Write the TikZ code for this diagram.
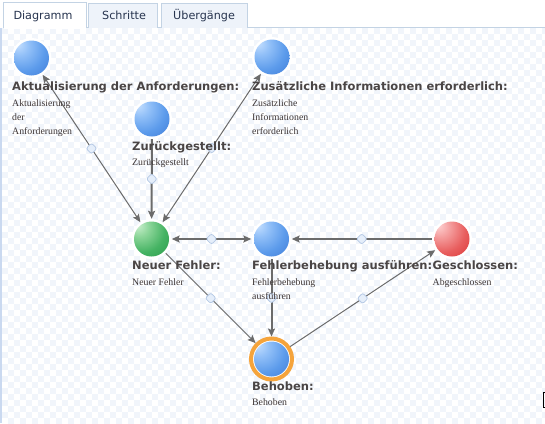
\documentclass[tikz,border=0pt]{standalone}
\usepackage{fontspec}
\setmainfont{Liberation Serif}
\newfontfamily\dvsans{DejaVu Sans}
\usetikzlibrary{arrows.meta,shapes.geometric}
\definecolor{tabtxt}{HTML}{27344F}
\definecolor{tabborder}{HTML}{C3D3E4}
\definecolor{tabfill}{HTML}{EEF3FA}
\definecolor{leftborder}{HTML}{CAD9F0}
\definecolor{chk}{HTML}{F1F5FB}
\definecolor{edgec}{HTML}{6B6B6B}
\definecolor{labc}{HTML}{4A4545}
\definecolor{subc}{HTML}{3C3434}
\definecolor{mkfill}{HTML}{E5EEFA}
\definecolor{mkdraw}{HTML}{B5C9E5}
\definecolor{ringor}{HTML}{F5A43C}
\definecolor{bA}{HTML}{C6E0FF}\definecolor{bB}{HTML}{92C0F8}\definecolor{bC}{HTML}{5C9BEB}\definecolor{bD}{HTML}{3F7AD6}\definecolor{bE}{HTML}{2D5CAE}\definecolor{bF}{HTML}{1D3E80}
\definecolor{gA}{HTML}{CDF0D0}\definecolor{gB}{HTML}{8DD69A}\definecolor{gC}{HTML}{45B363}\definecolor{gD}{HTML}{2A9A4A}\definecolor{gE}{HTML}{1E7E3A}\definecolor{gF}{HTML}{125626}
\definecolor{rA}{HTML}{FFD4D4}\definecolor{rB}{HTML}{F5A0A0}\definecolor{rC}{HTML}{E85E5E}\definecolor{rD}{HTML}{DA3434}\definecolor{rE}{HTML}{BE2424}\definecolor{rF}{HTML}{861212}
\pgfdeclareradialshading{blueball}{\pgfpoint{-18bp}{18bp}}{color(0bp)=(bA); color(12bp)=(bB); color(28bp)=(bC); color(45bp)=(bD); color(60bp)=(bE); color(78bp)=(bF)}
\pgfdeclareradialshading{greenball}{\pgfpoint{-18bp}{18bp}}{color(0bp)=(gA); color(12bp)=(gB); color(28bp)=(gC); color(45bp)=(gD); color(60bp)=(gE); color(78bp)=(gF)}
\pgfdeclareradialshading{redball}{\pgfpoint{-18bp}{18bp}}{color(0bp)=(rA); color(12bp)=(rB); color(28bp)=(rC); color(45bp)=(rD); color(60bp)=(rE); color(78bp)=(rF)}
\begin{document}
\begin{tikzpicture}[x=1pt,y=-1pt,
  st/.style={circle, inner sep=0pt, minimum size=40pt, fill=white,
    path picture={\shade[shading=#1] (path picture bounding box.center) circle[radius=17.5pt];}},
  string/.style={circle, inner sep=0pt, minimum size=41pt, fill=white, draw=ringor, line width=4pt,
    path picture={\shade[shading=#1] (path picture bounding box.center) circle[radius=17.5pt];}},
  lab/.style={font=\dvsans\bfseries\fontsize{11.5}{13}\selectfont, text=labc, inner sep=0pt, anchor=base west},
  sub/.style={font=\fontsize{9.8}{12}\selectfont, text=subc, inner sep=0pt, anchor=base west},
  tabt/.style={font=\dvsans\fontsize{11.2}{13}\selectfont, text=tabtxt, inner sep=0pt, anchor=base west},
  edgebase/.style={draw=edgec, >={Stealth[length=8pt,width=7pt,inset=1.5pt]}},
  thinE/.style={edgebase, line width=1pt},
  thickE/.style={edgebase, line width=2pt},
  mk/.style={diamond, draw=mkdraw, fill=mkfill, minimum size=11pt, inner sep=0pt, rounded corners=2pt, line width=0.8pt}
]
\useasboundingbox (0,0) rectangle (545,423);
\fill[white] (0,0) rectangle (545,423);
% checker background
\begin{scope}
\clip (2,28) rectangle (545,423);
\foreach \j in {0,...,66}{
  \pgfmathsetmacro\ph{mod(\j,2)*6}
  \draw[chk, line width=6pt, dash pattern=on 6pt off 6pt, dash phase=\ph pt] (2,{31+6*\j}) -- (545,{31+6*\j});
}
\end{scope}
% tabs
\draw[tabborder, line width=1pt] (86,27.5) -- (545,27.5);
\draw[tabborder, fill=tabfill, line width=1pt] (88.5,27.5) -- (88.5,3.5) -- (157.5,3.5) -- (157.5,27.5);
\draw[tabborder, fill=tabfill, line width=1pt] (161.5,27.5) -- (161.5,3.5) -- (247.5,3.5) -- (247.5,27.5);
\fill[white] (3.5,2.5) rectangle (86,29);
\draw[tabborder, line width=1pt] (3.5,28) -- (3.5,2.5) -- (86,2.5) -- (86,28);
\draw[leftborder, line width=2pt] (1,28) -- (1,423);
\node[tabt] (t1) at (13.3,19) {Diagramm};
\node[tabt] (t2) at (102,19) {Schritte};
\node[tabt] (t3) at (173,19) {Übergänge};
% states
\node[st=blueball] (akt) at (31.5,58) {};
\node[st=blueball] (zus) at (272,57) {};
\node[st=blueball] (zur) at (152,119) {};
\node[st=greenball] (neu) at (151.5,239) {};
\node[st=blueball] (feh) at (271.5,239) {};
\node[st=redball] (ges) at (452,239) {};
\node[string=blueball] (beh) at (271.5,359) {};
% transitions
\draw[thinE,<->] (akt) -- node[mk]{} (neu);
\draw[thinE,<->] (zus) -- node[mk]{} (neu);
\draw[thickE,->] (zur) -- node[mk]{} (neu);
\draw[thickE,<->] (neu) -- node[mk]{} (feh);
\draw[thickE,->] (ges) -- node[mk]{} (feh);
\draw[thickE,->] (feh) -- node[mk]{} (beh);
\draw[thinE,->] (neu) -- node[mk]{} (beh);
\draw[thinE,->] (beh) -- node[mk]{} (ges);
% labels
\node[lab] (aktL) at (12,90) {Aktualisierung der Anforderungen:};
\node[sub] (aktS1) at (12,106) {Aktualisierung};
\node[sub] (aktS2) at (12,120) {der};
\node[sub] (aktS3) at (12,134) {Anforderungen};
\node[lab] (zusL) at (252,90) {Zusätzliche Informationen erforderlich:};
\node[sub] (zusS1) at (252,106) {Zusätzliche};
\node[sub] (zusS2) at (252,120) {Informationen};
\node[sub] (zusS3) at (252,134) {erforderlich};
\node[lab] (zurL) at (132,150) {Zurückgestellt:};
\node[sub] (zurS1) at (132,165.5) {Zurückgestellt};
\node[lab] (neuL) at (132,269.5) {Neuer Fehler:};
\node[sub] (neuS1) at (132,285) {Neuer Fehler};
\node[lab] (fehL) at (252,269.5) {Fehlerbehebung ausführen:};
\node[sub] (fehS1) at (252,285) {Fehlerbehebung};
\node[sub] (fehS2) at (252,299.5) {ausführen};
\node[lab] (gesL) at (432.5,269.5) {Geschlossen:};
\node[sub] (gesS1) at (432.5,285) {Abgeschlossen};
\node[lab] (behL) at (252,390) {Behoben:};
\node[sub] (behS1) at (252,405) {Behoben};
% bracket at right edge
\draw[black, line width=1pt] (545,392.5) -- (543.5,392.5) -- (543.5,407.5) -- (545,407.5);
\end{tikzpicture}
\end{document}
